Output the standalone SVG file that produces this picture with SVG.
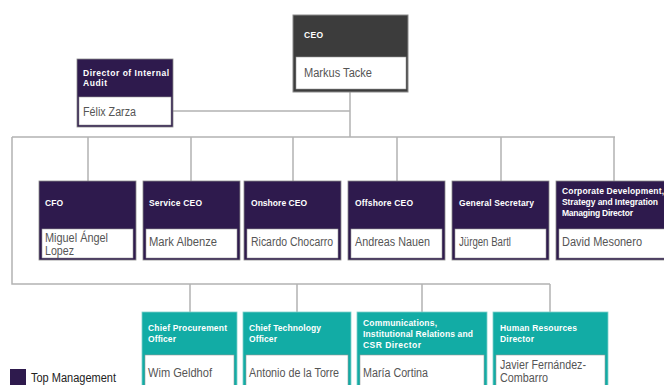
<svg xmlns="http://www.w3.org/2000/svg" width="664" height="385" viewBox="0 0 664 385">
<style>
.bg{fill:#ffffff}
.top{fill:#3c3c3c;stroke:#8a8a8a;stroke-width:1}
.pur{fill:#2e1a4d;stroke:#8a8a8a;stroke-width:0.8}
.teal{fill:#12aca5;stroke:#7fd0cb;stroke-width:0.8}
.in{fill:#ffffff;stroke:#9a9a9a;stroke-width:0.6}
.lbl{font-family:"Liberation Sans",Arial,sans-serif;font-size:8.5px;font-weight:bold;fill:#ffffff}
.nm{font-family:"Liberation Sans",Arial,sans-serif;font-size:12.5px;fill:#555555}
.con{fill:none;stroke:#b3b3b3;stroke-width:1.5}
.leg{font-family:"Liberation Sans",Arial,sans-serif;font-size:12px;fill:#222222}
</style>
<rect class="bg" x="0" y="0" width="664" height="385"/>
<g id="connectors">
<path class="con" d="M350,92 V137 M173,111 H350 M12,137 H615 M88,137 V181 M191,137 V181 M293,137 V181 M397,137 V181 M501,137 V181 M614,137 V181 M12,137 V284 H550 M190,284 V312 M297,284 V312 M422,284 V312 M550,284 V312"/>
</g>
<g id="ceo">
<rect class="top" x="293" y="15" width="115" height="77"/>
<rect class="in" x="296" y="57" width="110" height="32"/>
<text class="lbl" x="304" y="38" textLength="19" lengthAdjust="spacing">CEO</text>
<text class="nm" x="304" y="77" textLength="68" lengthAdjust="spacingAndGlyphs">Markus Tacke</text>
</g>
<g id="audit">
<rect class="pur" x="77" y="59" width="96" height="68"/>
<rect class="in" x="79" y="97" width="92" height="28"/>
<text class="lbl" x="83" y="76" textLength="86" lengthAdjust="spacing">Director of Internal</text>
<text class="lbl" x="83" y="86" textLength="24" lengthAdjust="spacing">Audit</text>
<text class="nm" x="83" y="116" textLength="53" lengthAdjust="spacingAndGlyphs">Félix Zarza</text>
</g>
<g id="cfo">
<rect class="pur" x="39" y="181" width="97" height="79"/>
<rect class="in" x="42" y="229" width="91" height="29"/>
<text class="lbl" x="45" y="206" textLength="18" lengthAdjust="spacing">CFO</text>
<text class="nm" x="45" y="242" textLength="63" lengthAdjust="spacingAndGlyphs">Miguel Ángel</text>
<text class="nm" x="45" y="255" textLength="29" lengthAdjust="spacingAndGlyphs">Lopez</text>
</g>
<g id="service">
<rect class="pur" x="143" y="181" width="97" height="79"/>
<rect class="in" x="146" y="229" width="91" height="29"/>
<text class="lbl" x="149" y="206" textLength="53" lengthAdjust="spacing">Service CEO</text>
<text class="nm" x="149" y="246" textLength="68" lengthAdjust="spacingAndGlyphs">Mark Albenze</text>
</g>
<g id="onshore">
<rect class="pur" x="244" y="181" width="97" height="79"/>
<rect class="in" x="247" y="229" width="91" height="29"/>
<text class="lbl" x="251" y="206" textLength="56" lengthAdjust="spacing">Onshore CEO</text>
<text class="nm" x="251" y="246" textLength="82" lengthAdjust="spacingAndGlyphs">Ricardo Chocarro</text>
</g>
<g id="offshore">
<rect class="pur" x="348" y="181" width="97" height="79"/>
<rect class="in" x="351" y="229" width="91" height="29"/>
<text class="lbl" x="355" y="206" textLength="58" lengthAdjust="spacing">Offshore CEO</text>
<text class="nm" x="355" y="246" textLength="75" lengthAdjust="spacingAndGlyphs">Andreas Nauen</text>
</g>
<g id="secretary">
<rect class="pur" x="452" y="181" width="97" height="79"/>
<rect class="in" x="455" y="229" width="91" height="29"/>
<text class="lbl" x="459" y="206" textLength="75" lengthAdjust="spacing">General Secretary</text>
<text class="nm" x="459" y="246" textLength="52" lengthAdjust="spacingAndGlyphs">Jürgen Bartl</text>
</g>
<g id="corporate">
<rect class="pur" x="556" y="181" width="120" height="79"/>
<rect class="in" x="559" y="229" width="114" height="29"/>
<text class="lbl" x="562" y="194" textLength="102" lengthAdjust="spacing">Corporate Development,</text>
<text class="lbl" x="562" y="205" textLength="96" lengthAdjust="spacing">Strategy and Integration</text>
<text class="lbl" x="562" y="216" textLength="71" lengthAdjust="spacing">Managing Director</text>
<text class="nm" x="562" y="246" textLength="80" lengthAdjust="spacingAndGlyphs">David Mesonero</text>
</g>
<g id="procurement">
<rect class="teal" x="142" y="312" width="95" height="80"/>
<rect class="in" x="145" y="355" width="89" height="40"/>
<text class="lbl" x="148" y="331" textLength="79" lengthAdjust="spacing">Chief Procurement</text>
<text class="lbl" x="148" y="342" textLength="28" lengthAdjust="spacing">Officer</text>
<text class="nm" x="148" y="377" textLength="64" lengthAdjust="spacingAndGlyphs">Wim Geldhof</text>
</g>
<g id="technology">
<rect class="teal" x="243" y="312" width="108" height="80"/>
<rect class="in" x="246" y="355" width="102" height="40"/>
<text class="lbl" x="249" y="331" textLength="72" lengthAdjust="spacing">Chief Technology</text>
<text class="lbl" x="249" y="342" textLength="28" lengthAdjust="spacing">Officer</text>
<text class="nm" x="249" y="377" textLength="90" lengthAdjust="spacingAndGlyphs">Antonio de la Torre</text>
</g>
<g id="communications">
<rect class="teal" x="357" y="312" width="130" height="80"/>
<rect class="in" x="360" y="355" width="124" height="40"/>
<text class="lbl" x="363" y="326" textLength="74" lengthAdjust="spacing">Communications,</text>
<text class="lbl" x="363" y="337" textLength="110" lengthAdjust="spacing">Institutional Relations and</text>
<text class="lbl" x="363" y="348" textLength="58" lengthAdjust="spacing">CSR  Director</text>
<text class="nm" x="363" y="377" textLength="65" lengthAdjust="spacingAndGlyphs">María Cortina</text>
</g>
<g id="hr">
<rect class="teal" x="493" y="312" width="115" height="80"/>
<rect class="in" x="496" y="355" width="109" height="40"/>
<text class="lbl" x="500" y="331" textLength="77" lengthAdjust="spacing">Human Resources</text>
<text class="lbl" x="500" y="342" textLength="34" lengthAdjust="spacing">Director</text>
<text class="nm" x="500" y="369" textLength="86" lengthAdjust="spacingAndGlyphs">Javier Fernández-</text>
<text class="nm" x="500" y="382" textLength="48" lengthAdjust="spacingAndGlyphs">Combarro</text>
</g>
<g id="legend">
<rect x="10" y="369" width="16" height="16" fill="#2e1a4d"/>
<text class="leg" x="31" y="382" textLength="85" lengthAdjust="spacingAndGlyphs">Top Management</text>
</g>
</svg>
